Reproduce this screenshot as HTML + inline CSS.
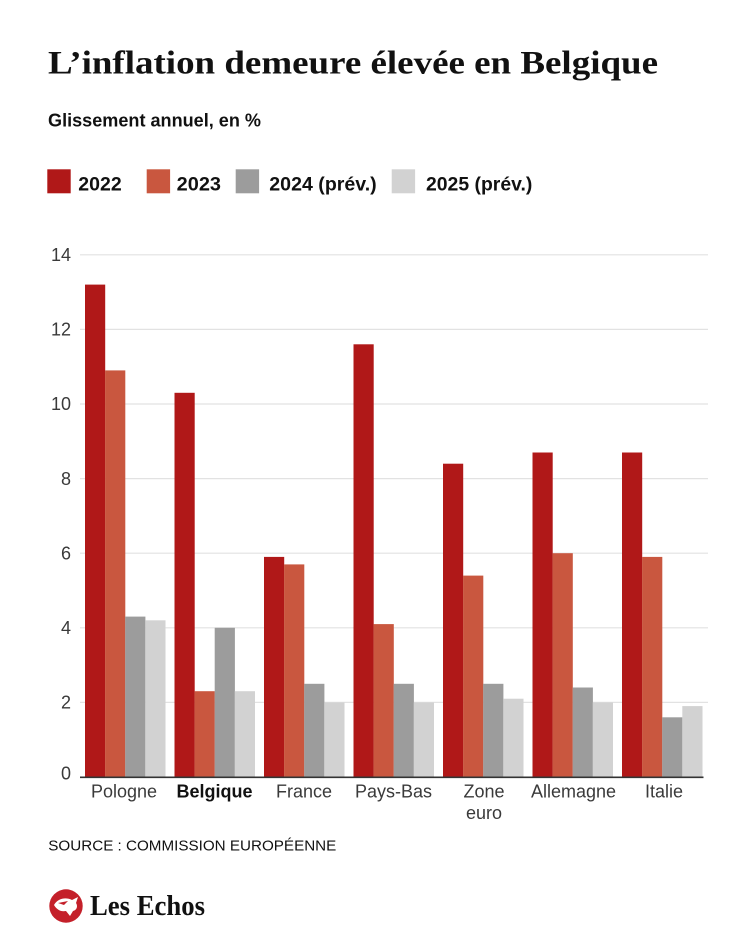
<!DOCTYPE html>
<html>
<head>
<meta charset="utf-8">
<style>
  html,body{margin:0;padding:0;background:#fff;}
  svg{display:block;}
  .ax{font-family:"Liberation Sans",sans-serif;font-size:18px;fill:#3a3a3a;}
</style>
</head>
<body>
<svg width="750" height="938" viewBox="0 0 750 938" xmlns="http://www.w3.org/2000/svg">
  <rect width="750" height="938" fill="#fff"/>
  <!-- Title -->
  <text x="48" y="73.5" font-family="'Liberation Serif',serif" font-weight="bold" font-size="33" fill="#111" textLength="610" lengthAdjust="spacingAndGlyphs">L’inflation demeure élevée en Belgique</text>
  <!-- Subtitle -->
  <text x="48" y="126.7" font-family="'Liberation Sans',sans-serif" font-weight="bold" font-size="18" fill="#111" textLength="213" lengthAdjust="spacingAndGlyphs">Glissement annuel, en %</text>
  <!-- Legend -->
  <rect x="47.3" y="169.3" width="23.4" height="24" fill="#b01818"/>
  <text x="78.3" y="190.7" font-family="'Liberation Sans',sans-serif" font-weight="bold" font-size="19.5" fill="#111" textLength="43.4" lengthAdjust="spacingAndGlyphs">2022</text>
  <rect x="146.7" y="169.3" width="23.4" height="24" fill="#c9573f"/>
  <text x="176.7" y="190.7" font-family="'Liberation Sans',sans-serif" font-weight="bold" font-size="19.5" fill="#111" textLength="44.3" lengthAdjust="spacingAndGlyphs">2023</text>
  <rect x="235.7" y="169.3" width="23.4" height="24" fill="#9c9c9c"/>
  <text x="269.3" y="190.7" font-family="'Liberation Sans',sans-serif" font-weight="bold" font-size="19.5" fill="#111" textLength="107.4" lengthAdjust="spacingAndGlyphs">2024 (prév.)</text>
  <rect x="391.7" y="169.3" width="23.4" height="24" fill="#d2d2d2"/>
  <text x="426" y="190.7" font-family="'Liberation Sans',sans-serif" font-weight="bold" font-size="19.5" fill="#111" textLength="106.3" lengthAdjust="spacingAndGlyphs">2025 (prév.)</text>

  <!-- Gridlines -->
  <g stroke="#e2e2e2" stroke-width="1.2">
    <line x1="80" x2="708" y1="254.8" y2="254.8"/>
    <line x1="80" x2="708" y1="329.4" y2="329.4"/>
    <line x1="80" x2="708" y1="404" y2="404"/>
    <line x1="80" x2="708" y1="478.6" y2="478.6"/>
    <line x1="80" x2="708" y1="553.2" y2="553.2"/>
    <line x1="80" x2="708" y1="627.8" y2="627.8"/>
    <line x1="80" x2="708" y1="702.4" y2="702.4"/>
  </g>
  <!-- Y labels -->
  <g class="ax" text-anchor="end">
    <text x="71" y="261">14</text>
    <text x="71" y="335.6">12</text>
    <text x="71" y="410.2">10</text>
    <text x="71" y="484.8">8</text>
    <text x="71" y="559.4">6</text>
    <text x="71" y="634">4</text>
    <text x="71" y="708.6">2</text>
    <text x="71" y="779.5">0</text>
  </g>

  <!-- Bars: base y=777, scale 37.3/unit -->
  <g>
    <!-- Pologne g=0, x0=85 -->
    <rect x="85" y="284.6" width="20.2" height="492.4" fill="#b01818"/>
    <rect x="105.1" y="370.4" width="20.2" height="406.6" fill="#c9573f"/>
    <rect x="125.2" y="616.6" width="20.2" height="160.4" fill="#9c9c9c"/>
    <rect x="145.3" y="620.3" width="20.2" height="156.7" fill="#d2d2d2"/>
    <!-- Belgique g=1, x0=174.5 -->
    <rect x="174.5" y="392.8" width="20.2" height="384.2" fill="#b01818"/>
    <rect x="194.6" y="691.2" width="20.2" height="85.8" fill="#c9573f"/>
    <rect x="214.7" y="627.8" width="20.2" height="149.2" fill="#9c9c9c"/>
    <rect x="234.8" y="691.2" width="20.2" height="85.8" fill="#d2d2d2"/>
    <!-- France g=2, x0=264 -->
    <rect x="264" y="556.9" width="20.2" height="220.1" fill="#b01818"/>
    <rect x="284.1" y="564.4" width="20.2" height="212.6" fill="#c9573f"/>
    <rect x="304.2" y="683.8" width="20.2" height="93.2" fill="#9c9c9c"/>
    <rect x="324.3" y="702.4" width="20.2" height="74.6" fill="#d2d2d2"/>
    <!-- Pays-Bas g=3, x0=353.5 -->
    <rect x="353.5" y="344.3" width="20.2" height="432.7" fill="#b01818"/>
    <rect x="373.6" y="624.1" width="20.2" height="152.9" fill="#c9573f"/>
    <rect x="393.7" y="683.8" width="20.2" height="93.2" fill="#9c9c9c"/>
    <rect x="413.8" y="702.4" width="20.2" height="74.6" fill="#d2d2d2"/>
    <!-- Zone euro g=4, x0=443 -->
    <rect x="443" y="463.7" width="20.2" height="313.3" fill="#b01818"/>
    <rect x="463.1" y="575.6" width="20.2" height="201.4" fill="#c9573f"/>
    <rect x="483.2" y="683.8" width="20.2" height="93.2" fill="#9c9c9c"/>
    <rect x="503.3" y="698.7" width="20.2" height="78.3" fill="#d2d2d2"/>
    <!-- Allemagne g=5, x0=532.5 -->
    <rect x="532.5" y="452.5" width="20.2" height="324.5" fill="#b01818"/>
    <rect x="552.6" y="553.2" width="20.2" height="223.8" fill="#c9573f"/>
    <rect x="572.7" y="687.5" width="20.2" height="89.5" fill="#9c9c9c"/>
    <rect x="592.8" y="702.4" width="20.2" height="74.6" fill="#d2d2d2"/>
    <!-- Italie g=6, x0=622 -->
    <rect x="622" y="452.5" width="20.2" height="324.5" fill="#b01818"/>
    <rect x="642.1" y="556.9" width="20.2" height="220.1" fill="#c9573f"/>
    <rect x="662.2" y="717.3" width="20.2" height="59.7" fill="#9c9c9c"/>
    <rect x="682.3" y="706.1" width="20.2" height="70.9" fill="#d2d2d2"/>
  </g>
  <!-- Baseline -->
  <line x1="80" x2="703.5" y1="777.3" y2="777.3" stroke="#333" stroke-width="1.6"/>

  <!-- Category labels -->
  <g class="ax" text-anchor="middle">
    <text x="124" y="797.5">Pologne</text>
    <text x="214.5" y="797.5" font-weight="bold" fill="#111">Belgique</text>
    <text x="304" y="797.5">France</text>
    <text x="393.5" y="797.5">Pays-Bas</text>
    <text x="484" y="797.5">Zone</text>
    <text x="484" y="819">euro</text>
    <text x="573.5" y="797.5">Allemagne</text>
    <text x="664" y="797.5">Italie</text>
  </g>

  <!-- Source -->
  <text x="48.3" y="850.7" font-family="'Liberation Sans',sans-serif" font-size="15" fill="#111" textLength="288" lengthAdjust="spacingAndGlyphs">SOURCE : COMMISSION EUROPÉENNE</text>

  <!-- Logo -->
  <circle cx="66" cy="906" r="16.7" fill="#c4202a"/>
  <path d="M54 905 C58 898 66 897 72 900 L78 897 L76 903 C78 906 77 910 73 911 L70 916 L66 911 C61 912 57 910 54 905 Z" fill="#fff"/>
  <path d="M58 903 L68 901 L64 905 Z" fill="#c4202a"/>
  <text x="90" y="915" font-family="'Liberation Serif',serif" font-weight="bold" font-size="28" fill="#111" textLength="115" lengthAdjust="spacingAndGlyphs">Les Echos</text>
</svg>
</body>
</html>
